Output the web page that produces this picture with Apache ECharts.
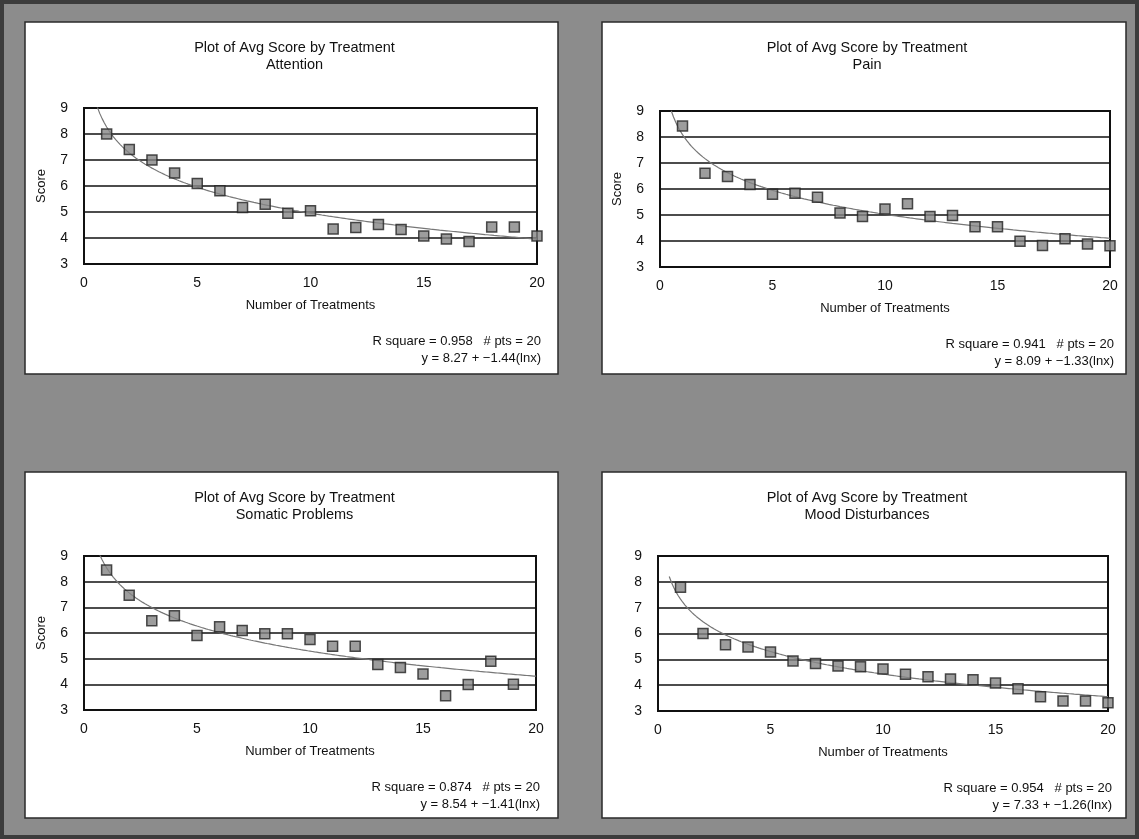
<!DOCTYPE html>
<html><head><meta charset="utf-8">
<script src="https://cdn.jsdelivr.net/npm/echarts@6/dist/echarts.min.js"></script>
<style>html,body{margin:0;padding:0;background:#8e8e8e;} #c{width:1139px;height:839px;}</style>
</head><body><div id="c"></div><script>
// ---- data ----
const treatments = [1,2,3,4,5,6,7,8,9,10,11,12,13,14,15,16,17,18,19,20];
const attention = [8.0,7.4,7.0,6.5,6.1,5.82,5.17,5.3,4.95,5.05,4.35,4.4,4.52,4.33,4.08,3.96,3.87,4.42,4.42,4.08];
const pain      = [8.42,6.61,6.48,6.17,5.8,5.84,5.68,5.08,4.94,5.23,5.43,4.94,4.98,4.55,4.55,3.99,3.83,4.09,3.88,3.82];
const somatic   = [8.45,7.47,6.48,6.67,5.9,6.24,6.1,5.97,5.97,5.75,5.48,5.48,4.77,4.66,4.4,3.56,3.99,4.9,4.0];
const mood      = [7.79,6.0,5.56,5.48,5.28,4.94,4.84,4.74,4.71,4.63,4.42,4.33,4.24,4.21,4.08,3.86,3.55,3.39,3.39,3.32];
const panelNames = ['Attention','Pain','Somatic Problems','Mood Disturbances'];
const rSquare = ['0.958','0.941','0.874','0.954'];
const nPts = [20,20,20,20];
const intercepts = ['8.27','8.09','8.54','7.33'];
const slopes = ['1.44','1.33','1.41','1.26'];
const xTickValues = [0,5,10,15,20];
const yTickValues = [3,4,5,6,7,8,9];
const mainTitle = 'Plot of Avg Score by Treatment';
const xName = 'Number of Treatments';
const yName = 'Score';

// ---- layout ----
const seriesData = [attention, pain, somatic, mood];
const panels = [
  {x:25, y:22, w:533, h:352, gl:84, gt:108, gw:453, gh:156, showY:true},
  {x:602,y:22, w:524, h:352, gl:660,gt:111, gw:450, gh:156, showY:true},
  {x:25, y:472,w:533, h:346, gl:84, gt:556, gw:452, gh:154, showY:true},
  {x:602,y:472,w:524, h:346, gl:658,gt:556, gw:450, gh:155, showY:false}
];
// sample positions along the fitted logarithmic trend curve
const fitX = [];
for (let v = 0.5; v <= 20.001; v += 0.1) fitX.push(+v.toFixed(2));

const chart = echarts.init(document.getElementById('c'), null, {renderer:'canvas'});
const FONT = 'Liberation Sans, Arial, sans-serif';
const grids=[], xAxes=[], yAxes=[], series=[], titles=[], graphics=[];

graphics.push({type:'rect', shape:{x:0,y:0,width:1139,height:839}, style:{fill:'#8c8c8c', stroke:'#3c3c3c', lineWidth:8}, z:-10, silent:true});

panels.forEach((p,i)=>{
  graphics.push({type:'rect', shape:{x:p.x,y:p.y,width:p.w,height:p.h}, style:{fill:'#fff', stroke:'#2a2a2a', lineWidth:1.5}, z:-5, silent:true});
  titles.push({text: mainTitle + '\n' + panelNames[i], left: p.x + p.w/2 - 2, top: p.y + 12, textAlign:'center',
    textStyle:{fontFamily:FONT, fontSize:14.5, fontWeight:'normal', color:'#111', lineHeight:17}});
  grids.push({left:p.gl, top:p.gt, width:p.gw, height:p.gh, show:true, borderColor:'#111', borderWidth:2, backgroundColor:'transparent'});
  xAxes.push({type:'value', gridIndex:i, min:0, max:20, interval:5, name:xName, nameLocation:'middle', nameGap:35,
    nameTextStyle:{fontFamily:FONT, fontSize:13, color:'#111'},
    axisLine:{show:false}, axisTick:{show:false}, splitLine:{show:false},
    axisLabel:{fontFamily:FONT, fontSize:14, color:'#111', margin:12}});
  yAxes.push({type:'value', gridIndex:i, min:3, max:9, interval:1, name:p.showY?yName:'', nameLocation:'middle', nameGap:36,
    nameTextStyle:{fontFamily:FONT, fontSize:13, color:'#111'},
    axisLine:{show:false}, axisTick:{show:false},
    splitLine:{show:true, lineStyle:{color:'#111', width:1.6}},
    axisLabel:{fontFamily:FONT, fontSize:14, color:'#111', margin:16}});
  const b0 = parseFloat(intercepts[i]), b1 = -parseFloat(slopes[i]);
  series.push({type:'line', xAxisIndex:i, yAxisIndex:i, showSymbol:false, symbol:'none', clip:true,
    lineStyle:{color:'#777', width:1.2}, z:2,
    data: fitX.map(x=>[x, b0 + b1*Math.log(x)])});
  series.push({type:'scatter', xAxisIndex:i, yAxisIndex:i, symbol:'rect', symbolSize:10, clip:false, z:3,
    itemStyle:{color:'#858585', borderColor:'#222', borderWidth:1.5},
    data: seriesData[i].map((v,k)=>[treatments[k], v])});
  const right = p.gl + p.gw + 4;
  const ty = p.gt + p.gh + 77;
  graphics.push({type:'text', x:right, y:ty, style:{text:'R square = ' + rSquare[i] + '   # pts = ' + nPts[i], textAlign:'right', textVerticalAlign:'middle', font:'13px ' + FONT, fill:'#111'}});
  graphics.push({type:'text', x:right, y:ty+17, style:{text:'y = ' + intercepts[i] + ' + \u2212' + slopes[i] + '(lnx)', textAlign:'right', textVerticalAlign:'middle', font:'13px ' + FONT, fill:'#111'}});
});

chart.setOption({
  animation:false,
  backgroundColor:'#8c8c8c',
  title: titles,
  grid: grids, xAxis: xAxes, yAxis: yAxes, series: series,
  graphic: graphics
});
</script></body></html>
